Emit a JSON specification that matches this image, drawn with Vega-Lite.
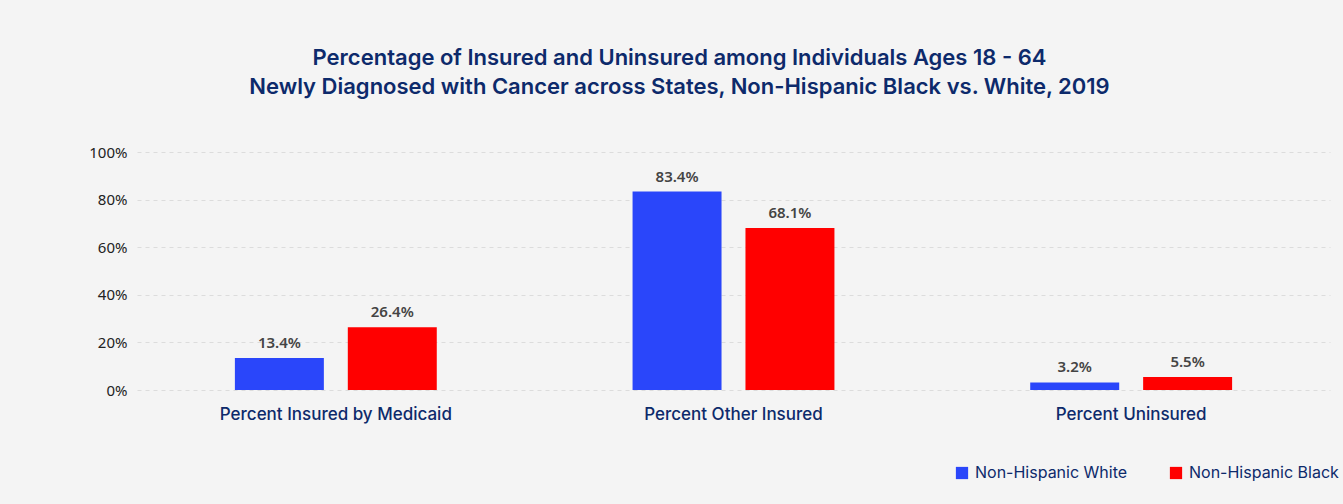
{
  "$schema": "https://vega.github.io/schema/vega-lite/v6.json",
  "width": 1193,
  "height": 238,
  "autosize": {"type": "none"},
  "padding": {"left": 137, "top": 152, "right": 13, "bottom": 114},
  "background": "#f4f4f4",
  "config": {"view": {"stroke": null}},
  "title": {
    "text": ["Percentage of Insured and Uninsured among Individuals Ages 18 - 64", "Newly Diagnosed with Cancer across States, Non-Hispanic Black vs. White, 2019"],
    "anchor": "middle",
    "dx": -54,
    "offset": 46,
    "font": "Inter",
    "fontSize": 22,
    "fontWeight": 600,
    "color": "#0d2a6b",
    "lineHeight": 29
  },
  "data": {
    "values": [
      {"category": "Percent Insured by Medicaid", "group": "Non-Hispanic White", "value": 0.134},
      {"category": "Percent Insured by Medicaid", "group": "Non-Hispanic Black", "value": 0.264},
      {"category": "Percent Other Insured", "group": "Non-Hispanic White", "value": 0.834},
      {"category": "Percent Other Insured", "group": "Non-Hispanic Black", "value": 0.681},
      {"category": "Percent Uninsured", "group": "Non-Hispanic White", "value": 0.032},
      {"category": "Percent Uninsured", "group": "Non-Hispanic Black", "value": 0.055}
    ]
  },
  "encoding": {
    "x": {
      "field": "category",
      "type": "nominal",
      "sort": null,
      "scale": {"paddingInner": 0, "paddingOuter": 0},
      "axis": {
        "title": null,
        "labelAngle": 0,
        "ticks": false,
        "domain": false,
        "labelPadding": 16,
        "labelLimit": 0,
        "labelFont": "Inter",
        "labelFontSize": 17,
        "labelFontWeight": 500,
        "labelColor": "#0d2a6b",
        "grid": false
      }
    },
    "xOffset": {
      "field": "group",
      "type": "nominal",
      "sort": ["Non-Hispanic White", "Non-Hispanic Black"],
      "scale": {"paddingInner": 0.212, "paddingOuter": 0.867}
    },
    "y": {
      "field": "value",
      "type": "quantitative",
      "scale": {"domain": [0, 1]},
      "axis": {
        "title": null,
        "values": [0, 0.2, 0.4, 0.6, 0.8, 1],
        "format": ".0%",
        "ticks": false,
        "domain": false,
        "labelPadding": 10,
        "labelFont": "Noto Sans",
        "labelFontSize": 15,
        "labelColor": "#222222",
        "gridColor": "#dcdcdc",
        "gridDash": [4, 4],
        "gridWidth": 1
      }
    }
  },
  "layer": [
    {
      "mark": {"type": "bar"},
      "encoding": {
        "color": {
          "field": "group",
          "type": "nominal",
          "scale": {"domain": ["Non-Hispanic White", "Non-Hispanic Black"], "range": ["#2a46fa", "#ff0000"]},
          "legend": {
            "title": null,
            "orient": "none",
            "legendX": 817,
            "legendY": 313,
            "direction": "horizontal",
            "columns": 2,
            "columnPadding": 40,
            "symbolType": "square",
            "symbolSize": 150,
            "symbolStrokeWidth": 0,
            "symbolOpacity": 1,
            "labelFont": "Inter",
            "labelFontSize": 16,
            "labelColor": "#0d2a6b",
            "labelOffset": 5
          }
        }
      }
    },
    {
      "mark": {"type": "text", "dy": -7, "baseline": "bottom", "font": "Noto Sans", "fontSize": 15, "fontWeight": 600, "color": "#444444"},
      "encoding": {
        "text": {"field": "value", "type": "quantitative", "format": ".1%"}
      }
    }
  ]
}
